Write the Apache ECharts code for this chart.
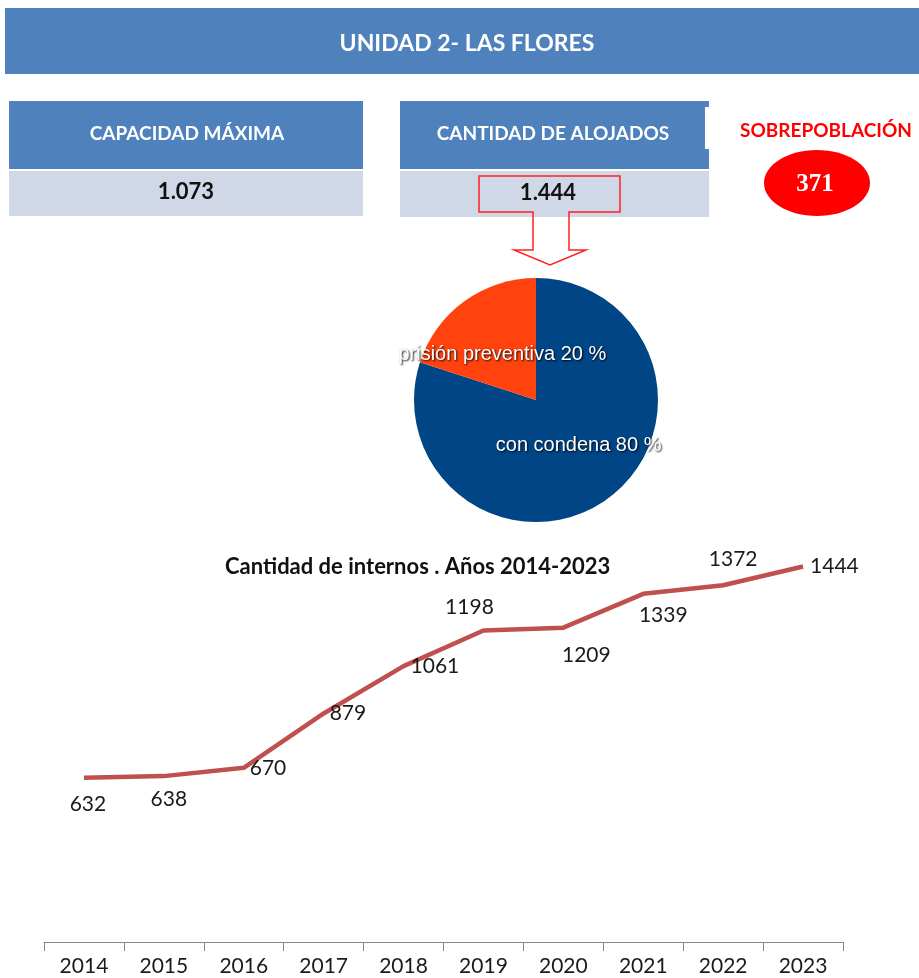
<!DOCTYPE html>
<html lang="es">
<head>
  <meta charset="UTF-8">
  <title>Unidad 2 - Las Flores</title>
  <style>
    html, body { margin: 0; padding: 0; background: #fff; }
    #chart { width: 919px; height: 978px; }
  </style>
</head>
<body>
<div id="chart"></div>
<script src="https://cdn.jsdelivr.net/npm/echarts@6/dist/echarts.min.js"></script>
<script>
  // --- data ---
  const unidad = 'UNIDAD 2- LAS FLORES';
  const capacidadMaxima = 1073;
  const cantidadAlojados = 1444;
  const pieNames = ['con condena', 'prisión preventiva'];
  const pieValues = [80, 20];
  const years = ['2014', '2015', '2016', '2017', '2018', '2019', '2020', '2021', '2022', '2023'];
  const internos = [632, 638, 670, 879, 1061, 1198, 1209, 1339, 1372, 1444];

  // label placement for each point of the line (style only)
  const labelPos = [
    ['bottom', 16, [4, 0]], ['bottom', 13, [5, 0]], ['right', 6, [0, 0]], ['right', 6, [0, 0]],
    ['right', 7, [0, 0]], ['top', 13, [-14, 0]], ['bottom', 17, [23, 0]], ['bottom', 11, [20, 0]],
    ['top', 16, [10, 0]], ['right', 7, [0, 0]]
  ];
  // small nudges for the pie labels (style only)
  const pieLabelShift = [[5, -6], [4, 6]];

  const fmt = (n) => n.toLocaleString('de-DE');
  const calibri = 'Lato, "Open Sans", sans-serif';

  const chart = echarts.init(document.getElementById('chart'));

  const graphic = [
    // title bar
    {type: 'rect', shape: {x: 5, y: 8, width: 914, height: 66}, style: {fill: '#4F81BD'}},
    {type: 'text', x: 467, y: 44, style: {text: unidad, fill: '#fff', font: 'bold 23px ' + calibri, align: 'center', verticalAlign: 'middle'}},
    // box 1
    {type: 'rect', shape: {x: 9, y: 101, width: 354, height: 68}, style: {fill: '#4F81BD'}},
    {type: 'rect', shape: {x: 9, y: 171, width: 354, height: 45}, style: {fill: '#D0D8E8'}},
    {type: 'text', x: 187, y: 134, style: {text: 'CAPACIDAD MÁXIMA', fill: '#fff', font: 'bold 19px ' + calibri, align: 'center', verticalAlign: 'middle'}},
    {type: 'text', x: 186, y: 192, style: {text: fmt(capacidadMaxima), fill: '#111', font: 'bold 22px ' + calibri, align: 'center', verticalAlign: 'middle'}},
    // box 2
    {type: 'rect', shape: {x: 400, y: 101, width: 309, height: 68}, style: {fill: '#4F81BD'}},
    {type: 'rect', shape: {x: 705, y: 107, width: 4, height: 42}, style: {fill: '#fff'}},
    {type: 'rect', shape: {x: 400, y: 171, width: 309, height: 46}, style: {fill: '#D0D8E8'}},
    {type: 'text', x: 553, y: 134, style: {text: 'CANTIDAD DE ALOJADOS', fill: '#fff', font: 'bold 19px ' + calibri, align: 'center', verticalAlign: 'middle'}},
    {type: 'text', x: 548, y: 193, style: {text: fmt(cantidadAlojados), fill: '#111', font: 'bold 22px ' + calibri, align: 'center', verticalAlign: 'middle'}},
    // red callout arrow
    {
      type: 'polygon',
      shape: {points: [[479, 176], [620, 176], [620, 212], [569, 212], [569, 250], [586, 250], [550, 265], [514, 250], [533, 250], [533, 212], [479, 212]]},
      style: {fill: 'none', stroke: '#FF2020', lineWidth: 1.5}
    },
    // sobrepoblacion
    {type: 'text', x: 826, y: 131, style: {text: 'SOBREPOBLACIÓN', fill: '#FF0000', font: 'bold 19px ' + calibri, align: 'center', verticalAlign: 'middle'}},
    {type: 'ellipse', shape: {cx: 817, cy: 183, rx: 53, ry: 33}, style: {fill: '#FF0000'}},
    {type: 'text', x: 815, y: 185, style: {text: String(cantidadAlojados - capacidadMaxima), fill: '#fff', font: 'bold 25px "Liberation Serif", serif', align: 'center', verticalAlign: 'middle'}}
  ];

  chart.setOption({
    animation: false,
    title: {
      text: 'Cantidad de internos . Años 2014-2023',
      left: 220,
      top: 551,
      textStyle: {fontFamily: calibri, fontSize: 22, fontWeight: 'bold', color: '#111'}
    },
    grid: {left: 44, right: 76, top: 526, bottom: 36, containLabel: false},
    xAxis: {
      type: 'category',
      data: years,
      boundaryGap: true,
      axisLine: {show: true, lineStyle: {color: '#888', width: 1}},
      axisTick: {show: true, length: 9, lineStyle: {color: '#888'}},
      axisLabel: {fontFamily: calibri, fontSize: 21, color: '#1a1a1a', margin: 14}
    },
    yAxis: {type: 'value', min: 0, max: 1600, show: false, splitLine: {show: false}},
    series: [
      {
        type: 'pie',
        center: [536, 400],
        radius: 122,
        startAngle: 90,
        clockwise: true,
        silent: true,
        color: ['#004586', '#FF420E'],
        data: pieNames.map((n, i) => ({name: n, value: pieValues[i]})),
        label: {
          position: 'inside',
          formatter: (p) => p.name + ' ' + Math.round(p.percent) + ' %',
          fontFamily: '"Liberation Sans", Arial, sans-serif',
          fontSize: 20,
          color: '#fff',
          textShadowColor: 'rgba(0,0,0,0.9)',
          textShadowBlur: 2,
          textShadowOffsetX: 1,
          textShadowOffsetY: 1
        },
        labelLayout: (p) => ({dx: pieLabelShift[p.dataIndex][0], dy: pieLabelShift[p.dataIndex][1]}),
        labelLine: {show: false}
      },
      {
        type: 'line',
        data: internos.map((v, i) => ({
          value: v,
          label: {position: labelPos[i][0], distance: labelPos[i][1], offset: labelPos[i][2]}
        })),
        showSymbol: true,
        symbol: 'circle',
        symbolSize: 0,
        lineStyle: {color: '#C0504D', width: 4.5},
        label: {show: true, fontFamily: calibri, fontSize: 21, color: '#1a1a1a'}
      }
    ],
    graphic: graphic
  });
</script>
</body>
</html>
